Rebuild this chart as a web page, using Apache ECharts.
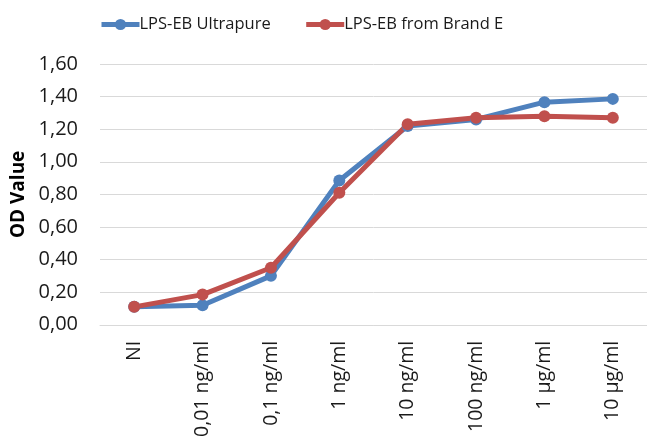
<!DOCTYPE html>
<html>
<head>
<meta charset="utf-8">
<script src="https://cdn.jsdelivr.net/npm/echarts@6/dist/echarts.min.js"></script>
<style>html,body{margin:0;padding:0;background:#fff}#c{width:647px;height:440px}</style>
</head>
<body>
<div id="c"></div>
<script>
var categories = ['NI', '0,01 ng/ml', '0,1 ng/ml', '1 ng/ml', '10 ng/ml', '100 ng/ml', '1 µg/ml', '10 µg/ml'];
var ultrapure = [0.11, 0.12, 0.30, 0.885, 1.22, 1.26, 1.366, 1.386];
var brandE = [0.11, 0.185, 0.35, 0.81, 1.23, 1.27, 1.28, 1.27];
var seriesNames = ['LPS-EB Ultrapure', 'LPS-EB from Brand E'];
var yMin = 0, yMax = 1.6, yStep = 0.2;

var chart = echarts.init(document.getElementById('c'));
var font = 'Open Sans';
chart.setOption({
  animation: false,
  color: ['#4F81BD', '#C0504D'],
  legend: {
    top: 11,
    left: 94,
    itemWidth: 38,
    itemHeight: 14,
    itemGap: 33,
    lineStyle: { width: 5 },
    textStyle: { fontFamily: font, fontSize: 16.5, color: '#1a1a1a', padding: [0, 0, 0, -5] },
    data: seriesNames
  },
  grid: { left: 100, top: 64, width: 551, height: 261, containLabel: false },
  xAxis: {
    type: 'category',
    data: categories,
    boundaryGap: true,
    axisLine: { lineStyle: { color: '#d9d9d9', width: 1 } },
    axisTick: { show: false },
    axisLabel: { rotate: 90, margin: 16, fontFamily: font, fontSize: 19.5, color: '#1a1a1a' }
  },
  yAxis: {
    type: 'value',
    min: yMin, max: yMax, interval: yStep,
    name: 'OD Value',
    nameLocation: 'middle',
    nameGap: 72,
    nameTextStyle: { fontFamily: font, fontSize: 19, fontWeight: 'bold', color: '#000' },
    axisLine: { show: false },
    axisTick: { show: false },
    splitLine: { lineStyle: { color: '#d9d9d9', width: 1 } },
    axisLabel: {
      margin: 22, fontFamily: font, fontSize: 20, color: '#1a1a1a',
      formatter: function (v) { return v.toFixed(2).replace('.', ','); }
    }
  },
  series: [
    { name: seriesNames[0], type: 'line', data: ultrapure, symbol: 'circle', symbolSize: 12,
      lineStyle: { width: 5 }, itemStyle: { color: '#4F81BD' } },
    { name: seriesNames[1], type: 'line', data: brandE, symbol: 'circle', symbolSize: 12,
      lineStyle: { width: 5 }, itemStyle: { color: '#C0504D' } }
  ]
});
</script>
</body>
</html>
